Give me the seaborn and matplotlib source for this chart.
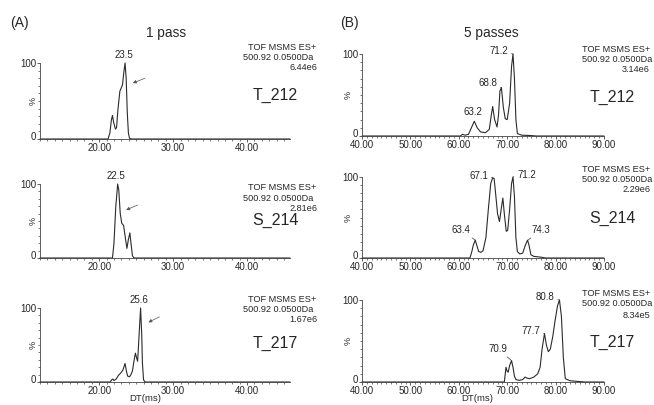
import numpy as np
import pandas as pd
import matplotlib
matplotlib.use("Agg")
import matplotlib.pyplot as plt
import matplotlib.transforms as mtransforms
from matplotlib.ticker import MultipleLocator, FormatStrFormatter
import seaborn as sns

sns.set_style("ticks")
plt.rcParams['font.family'] = ['Liberation Sans', 'DejaVu Sans']

# ---------------- data (drift time, % intensity) ----------------
t212_1_dt = [12.0, 21.2, 21.45, 21.65, 21.8, 21.95, 22.2, 22.35, 22.55, 22.8, 23.15, 23.3, 23.5, 23.65, 23.8, 23.95, 24.1, 24.4, 45.8]
t212_1_i  = [0, 0, 8, 25, 31, 22, 13, 15, 40, 63, 71, 85, 100, 80, 35, 8, 1, 0, 0]

s214_1_dt = [12.0, 21.8, 22.0, 22.25, 22.5, 22.65, 22.85, 23.05, 23.3, 23.5, 23.75, 23.95, 24.15, 24.3, 24.5, 24.7, 45.8]
s214_1_i  = [0, 0, 20, 70, 100, 92, 60, 47, 44, 30, 13, 25, 34, 20, 3, 0, 0]

t217_1_dt = [12.0, 21.5, 21.7, 21.85, 22.0, 22.3, 22.6, 22.9, 23.2, 23.5, 23.7, 23.85, 24.1, 24.3, 24.5, 24.7, 24.9, 25.05, 25.2, 25.35, 25.6, 25.75, 25.85, 26.0, 26.2, 45.8]
t217_1_i  = [0, 0, 3, 4, 2, 4, 9, 12, 16, 25, 14, 8, 7, 10, 15, 28, 39, 33, 28, 55, 100, 65, 25, 3, 0, 0]

t212_5_dt = [40, 60.3, 60.8, 61.3, 62.0, 62.6, 63.2, 63.8, 64.5, 65.5, 66.3, 66.7, 67.0, 67.4, 67.9, 68.2, 68.5, 68.8, 69.2, 69.6, 70.0, 70.5, 70.9, 71.2, 71.5, 71.8, 72.1, 73.0, 75.0, 76.0, 90]
t212_5_i  = [0, 0, 2, 1, 2, 10, 18, 10, 5, 4, 8, 25, 36, 20, 11, 25, 55, 59, 35, 21, 20, 40, 85, 100, 70, 20, 3, 1, 0.5, 0, 0]

s214_5_dt = [40, 62.3, 62.7, 63.0, 63.4, 63.8, 64.1, 64.6, 65.0, 65.6, 66.1, 66.6, 67.0, 67.3, 67.6, 68.0, 68.4, 68.8, 69.1, 69.4, 69.8, 70.1, 70.5, 70.9, 71.2, 71.5, 71.8, 72.1, 72.6, 73.2, 73.7, 74.2, 74.5, 74.9, 75.5, 77.0, 78.0, 90]
s214_5_i  = [0, 0, 8, 16, 22, 14, 8, 7, 9, 25, 60, 92, 99, 98, 80, 55, 45, 62, 74, 55, 33, 34, 60, 92, 100, 75, 25, 8, 5, 6, 15, 22, 16, 4, 2, 1, 0, 0]

t217_5_dt = [40, 69.4, 69.6, 69.75, 70.0, 70.2, 70.5, 70.9, 71.2, 71.5, 71.8, 72.5, 73.2, 73.7, 74.0, 74.6, 75.5, 76.3, 76.8, 77.2, 77.7, 78.1, 78.5, 78.9, 79.4, 79.9, 80.4, 80.8, 81.2, 81.6, 82.0, 83.0, 85.0, 86.0, 90]
t217_5_i  = [0, 0, 10, 18, 13, 12, 20, 26, 18, 7, 3, 2, 3, 6, 5, 4, 6, 10, 18, 40, 59, 45, 37, 40, 55, 75, 93, 100, 80, 30, 4, 1.5, 0.5, 0, 0]

names = ["T_212", "S_214", "T_217"]
scales_1 = ["6.44e6", "2.81e6", "1.67e6"]
scales_5 = ["3.14e6", "2.29e6", "8.34e5"]

peaks_1 = [[(23.5, 100)], [(22.5, 100)], [(25.6, 100)]]
peaks_5 = [[(63.2, 18), (68.8, 59), (71.2, 100)],
           [(63.4, 22), (67.1, 99), (71.2, 100), (74.3, 22)],
           [(70.9, 26), (77.7, 59), (80.8, 100)]]

W, H = 654, 405
fig = plt.figure(figsize=(W / 100, H / 100), dpi=100)

def px_rect(x0, x1, ytop, ybot):
    return [x0 / W, 1 - ybot / H, (x1 - x0) / W, (ybot - ytop) / H]

def ftext(x, y, s, **kw):
    fig.text(x / W, 1 - y / H, s, **kw)

LINE = "#2b2b2b"
FS = 7
IFS = 6.6

def style_axis(ax, xlim, xmajor):
    ax.set_xlim(*xlim)
    ax.set_ylim(0, 100)
    ax.set_xticks(xmajor)
    ax.xaxis.set_major_formatter(FormatStrFormatter('%.2f'))
    ax.xaxis.set_minor_locator(MultipleLocator(1))
    ax.set_yticks([0, 100])
    ax.set_yticklabels(['0', '100'])
    ax.yaxis.set_minor_locator(MultipleLocator(10))
    ax.tick_params(axis='both', which='major', length=2.2, width=0.6, labelsize=FS, pad=0.5, color='#444')
    ax.tick_params(axis='both', which='minor', length=1.5, width=0.5, color='#444')
    for s in ['top', 'right']:
        ax.spines[s].set_visible(False)
    for s in ['left', 'bottom']:
        ax.spines[s].set_linewidth(0.6)
        ax.spines[s].set_color('#444')
    ax.set_xlabel('')
    ax.set_ylabel('')
    # nudge the "0" label slightly upward so it clears the x tick labels
    lbl = ax.get_yticklabels()[0]
    lbl.set_transform(lbl.get_transform() +
                      mtransforms.ScaledTranslation(0, 2 / 72, fig.dpi_scale_trans))

def draw(ax, dt, inten):
    df = pd.DataFrame({"DT": dt, "I": inten})
    sns.lineplot(data=df, x="DT", y="I", ax=ax, color=LINE, lw=0.8,
                 sort=False, estimator=None, clip_on=False)

left_rows = [(63, 139), (184, 258), (308, 382)]
right_rows = [(54, 136), (177, 258), (300, 382)]
data_1 = [(t212_1_dt, t212_1_i), (s214_1_dt, s214_1_i), (t217_1_dt, t217_1_i)]
data_5 = [(t212_5_dt, t212_5_i), (s214_5_dt, s214_5_i), (t217_5_dt, t217_5_i)]

# arrows (start -> end) in data coords for 1-pass panels
arrows = [((26.2, 80), (24.55, 73.6)), ((25.2, 71.6), (23.65, 64.9)), ((28.15, 88), (26.65, 80.7))]

# label offsets for 5-pass peaks (points), ha, leader
off5 = [[((-1, 3), 'center', False), ((-3, 3), 'right', True), ((-3.5, 2), 'right', True)],
        [((-3.5, 4), 'right', True), ((-3.5, 1.5), 'right', True), ((3, 1.5), 'left', True), ((2.5, 4), 'left', True)],
        [((-3, 5), 'right', True), ((-3, 2), 'right', True), ((-3.5, 2), 'right', True)]]

for r in range(3):
    # ---- left (1 pass)
    ax = fig.add_axes(px_rect(40, 290, *left_rows[r]))
    draw(ax, *data_1[r])
    style_axis(ax, (12.0, 45.8), [20, 30, 40])
    for (px_, py_) in peaks_1[r]:
        ax.annotate(f"{px_:.1f}", xy=(px_, py_), xytext=(-1, 2), textcoords='offset points',
                    ha='center', va='bottom', fontsize=FS)
    (sx, sy), (ex, ey) = arrows[r]
    ax.annotate('', xy=(ex, ey), xytext=(sx, sy),
                arrowprops=dict(arrowstyle='-|>', lw=0.5, color='#555', mutation_scale=5,
                                shrinkA=0, shrinkB=0))
    # ---- right (5 passes)
    ax2 = fig.add_axes(px_rect(362, 604, *right_rows[r]))
    draw(ax2, *data_5[r])
    style_axis(ax2, (40, 90), [40, 50, 60, 70, 80, 90])
    for (pk, (off, ha, lead)) in zip(peaks_5[r], off5[r]):
        px_, py_ = pk
        if lead:
            ax2.annotate(f"{px_:.1f}", xy=(px_, py_), xytext=off, textcoords='offset points',
                         ha=ha, va='bottom' if off[1] > 3 else 'center', fontsize=FS,
                         arrowprops=dict(arrowstyle='-', lw=0.5, color='#333', shrinkA=0, shrinkB=0))
        else:
            ax2.annotate(f"{px_:.1f}", xy=(px_, py_), xytext=off, textcoords='offset points',
                         ha=ha, va='bottom', fontsize=FS)

# ---- info text blocks
info_left = [(48, 58, 68, 95), (188, 198, 208, 220), (300, 310, 320, 343)]
info_right = [(50, 60, 70, 97), (170, 180, 190, 218), (293, 303, 315, 342)]
for r in range(3):
    a, b, c, d = info_left[r]
    ftext(316, a, "TOF MSMS ES+", ha='right', va='center', fontsize=IFS)
    ftext(313, b, "500.92 0.0500Da", ha='right', va='center', fontsize=IFS)
    ftext(317, c, scales_1[r], ha='right', va='center', fontsize=IFS)
    ftext(275, d, names[r], ha='center', va='center', fontsize=11.5)
    ftext(33, (left_rows[r][0] + left_rows[r][1]) / 2, "%", ha='center', va='center', rotation=90, fontsize=6.5)
    a, b, c, d = info_right[r]
    ftext(650, a, "TOF MSMS ES+", ha='right', va='center', fontsize=IFS)
    ftext(652, b, "500.92 0.0500Da", ha='right', va='center', fontsize=IFS)
    ftext(650, c, scales_5[r], ha='right', va='center', fontsize=IFS)
    ftext(612, d, names[r], ha='center', va='center', fontsize=11.5)
    ftext(348, (right_rows[r][0] + right_rows[r][1]) / 2, "%", ha='center', va='center', rotation=90, fontsize=6.5)

ftext(19, 23, "(A)", ha='center', va='center', fontsize=10)
ftext(349, 23, "(B)", ha='center', va='center', fontsize=10)
ftext(166, 33, "1 pass", ha='center', va='center', fontsize=9.8)
ftext(491, 33, "5 passes", ha='center', va='center', fontsize=9.8)
ftext(145, 398.5, "DT(ms)", ha='center', va='center', fontsize=6.8)
ftext(477, 398.5, "DT(ms)", ha='center', va='center', fontsize=6.8)

fig.savefig("out.png", dpi=100, facecolor='white')
